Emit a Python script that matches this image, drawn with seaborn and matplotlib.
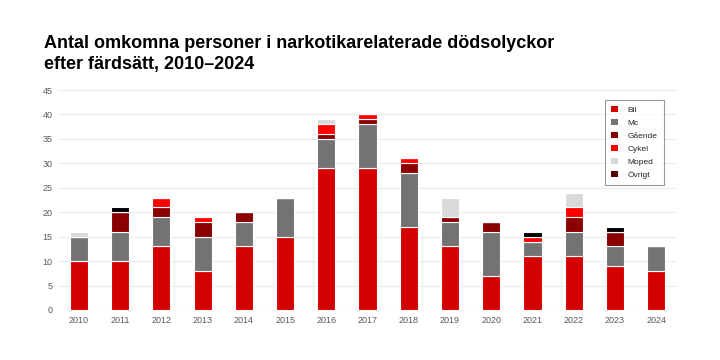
import numpy as np
import matplotlib.pyplot as plt
import seaborn as sns
from matplotlib.patches import Patch

years = [str(y) for y in range(2010, 2025)]
bil = [10, 10, 13, 8, 13, 15, 29, 29, 17, 13, 7, 11, 11, 9, 8]
mc = [5, 6, 6, 7, 5, 8, 6, 9, 11, 5, 9, 3, 5, 4, 5]
gaende = [0, 4, 2, 3, 2, 0, 1, 1, 2, 1, 2, 0, 3, 3, 0]
cykel = [0, 0, 2, 1, 0, 0, 2, 1, 1, 0, 0, 1, 2, 0, 0]
moped = [1, 0, 0, 0, 0, 0, 1, 0, 0, 4, 0, 0, 3, 0, 0]
ovrigt = [0, 1, 0, 0, 0, 0, 0, 0, 0, 0, 0, 1, 0, 1, 0]

series = [("Bil", bil, "#d40000"), ("Mc", mc, "#737373"), ("Gående", gaende, "#8b0000"),
          ("Cykel", cykel, "#ff0000"), ("Moped", moped, "#d9d9d9"), ("Övrigt", ovrigt, "#000000")]
# the legend swatch for Övrigt is dark maroon even though the bars are black
legend_colors = {"Övrigt": "#5a0000"}

sns.set_style("white")
plt.rcParams['font.family'] = ['Liberation Sans', 'DejaVu Sans']

fig = plt.figure(figsize=(7.2, 3.6), dpi=100)
ax = fig.add_axes([0.081, 0.139, 0.859, 0.611])

bottom = np.zeros(len(years))
for name, vals, color in series:
    vals = np.array(vals, dtype=float)
    sns.barplot(x=years, y=vals, bottom=bottom, color=color, saturation=1, width=0.44,
                edgecolor="white", linewidth=0.8, ax=ax, zorder=3)
    bottom += vals

ax.set_ylim(0, 45)
ax.set_yticks(range(0, 46, 5))
ax.set_xlim(-0.5, len(years) - 0.5)
ax.yaxis.grid(True, color="#ebebeb", linewidth=0.8, zorder=0)
ax.set_axisbelow(True)
for s in ax.spines.values():
    s.set_visible(False)
ax.tick_params(axis="both", length=0, labelsize=6.5, colors="#595959", pad=4)
ax.set_xlabel("")
ax.set_ylabel("")

handles = [Patch(facecolor=legend_colors.get(n, c), edgecolor="none") for n, _, c in series]
leg = ax.legend(handles, [n for n, _, _ in series], loc="upper right",
                bbox_to_anchor=(0.979, 0.955), fontsize=6, frameon=True, fancybox=False,
                edgecolor="#7f7f7f", handlelength=0.75, handleheight=0.75,
                labelspacing=0.6, borderpad=0.75, handletextpad=1.2, borderaxespad=0)
leg.get_frame().set_linewidth(0.8)

fig.text(0.061, 0.797, "Antal omkomna personer i narkotikarelaterade dödsolyckor\nefter färdsätt, 2010–2024",
         fontsize=13, fontweight="bold", color="black", ha="left", va="bottom", linespacing=1.32)

fig.savefig("out.png", dpi=100)
